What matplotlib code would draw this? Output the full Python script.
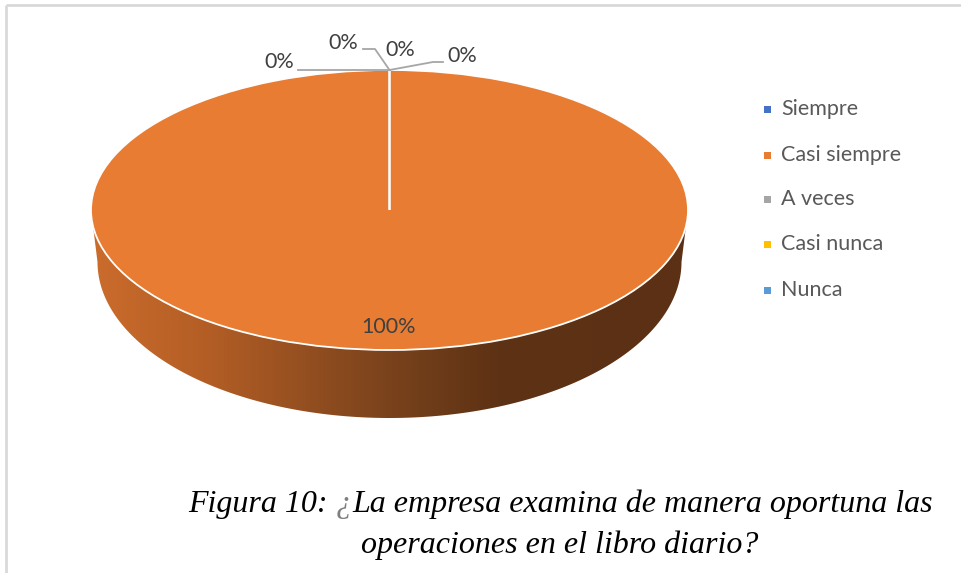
import matplotlib
matplotlib.use("Agg")
import matplotlib.pyplot as plt
import numpy as np
from matplotlib.patches import Polygon, Rectangle
from matplotlib.colors import LinearSegmentedColormap

# ---- data ----
categories = ["Siempre", "Casi siempre", "A veces", "Casi nunca", "Nunca"]
values = [0, 100, 0, 0, 0]
colors = ["#4472C4", "#E87C32", "#A5A5A5", "#FFC000", "#5B9BD5"]
caption_line1 = ["Figura 10: ", "¿", "La empresa examina de manera oportuna las"]
caption_line2 = "operaciones en el libro diario?"

W, H = 961, 573
fig = plt.figure(figsize=(W / 100, H / 100), dpi=100)
fig.patch.set_facecolor("white")

# ---- pie axes (full figure, ellipse via unequal scales) ----
cx, cy, rx, ry = 389.5, 210.0, 298.5, 140.0
ax = fig.add_axes([0, 0, 1, 1])
wedges, _ = ax.pie(values, colors=colors, startangle=90, counterclock=False,
                   radius=1, center=(0, 0),
                   wedgeprops=dict(edgecolor="white", linewidth=1.3))
for w in wedges:
    w.set_zorder(3)

# side of the 3D pie
bcy, ba, bb = -52 / ry, 292 / rx, 156 / ry
t1 = np.linspace(np.pi, 2 * np.pi, 200)
t2 = np.linspace(0, np.pi, 200)
pts = np.vstack([np.c_[ba * np.cos(t1), bcy + bb * np.sin(t1)],
                 np.c_[np.cos(t2), np.sin(t2)]])
side = Polygon(pts, closed=True, facecolor="none", edgecolor="none", zorder=1)
ax.add_patch(side)
cmap = LinearSegmentedColormap.from_list("side", [
    (0.0, "#cb6c2c"), (0.2, "#b25d25"), (0.4, "#8c4b1f"),
    (0.55, "#713e1a"), (0.68, "#5e3214"), (1.0, "#5c3014")])
grad = np.linspace(0, 1, 400).reshape(1, -1)
im = ax.imshow(grad, extent=(-1, 1, bcy - bb - 0.05, 0.2), aspect="auto",
               cmap=cmap, zorder=2, interpolation="bilinear")
im.set_clip_path(side)

ax.set_aspect("auto")
ax.set_xlim(-cx / rx, (W - cx) / rx)
ax.set_ylim(-(H - cy) / ry, cy / ry)
ax.axis("off")

# ---- overlay axes in pixel coordinates ----
ov = fig.add_axes([0, 0, 1, 1], zorder=5)
ov.set_xlim(0, W)
ov.set_ylim(H, 0)
ov.axis("off")
ov.patch.set_alpha(0)

# chart border
ov.plot([6, W], [5, 5], color="#d9d9d9", lw=2, solid_capstyle="butt")
ov.plot([6, 6], [5, H], color="#d9d9d9", lw=2, solid_capstyle="butt")

# data labels
total = sum(values)
label_pos = [(462, 56), (389, 327), (279, 62), (343, 43), (400, 50)]
lab_font = dict(family=["Lato", "DejaVu Sans"], fontsize=15.5, color="#404040")
for v, (lx, ly) in zip(values, label_pos):
    ov.text(lx, ly, f"{v / total * 100:.0f}%", ha="center", va="center", **lab_font)

# leader lines to the top of the pie
ax_x, ax_y = cx, cy - ry
lc = "#a6a6a6"
ov.plot([298, ax_x], [ax_y, ax_y], color=lc, lw=1.3)
ov.plot([363, 375, ax_x], [49, 49, ax_y], color=lc, lw=1.3)
ov.plot([443, 433, ax_x], [62, 62, ax_y], color=lc, lw=1.3)

# legend
leg_y = [109, 155, 199, 244, 290]
for cat, col, y in zip(categories, colors, leg_y):
    ov.add_patch(Rectangle((764, y - 3.5), 7, 7, facecolor=col, edgecolor="none"))
    ov.text(781, y, cat, ha="left", va="center",
            family=["Lato", "DejaVu Sans"], fontsize=15.5, color="#595959")

# caption
cap_font = dict(family="Liberation Serif", style="italic", fontsize=23)
fig.canvas.draw()
r = fig.canvas.get_renderer()
def width(s):
    t = ov.text(0, 0, s, **cap_font)
    w = t.get_window_extent(r).width
    t.remove()
    return w
full = "".join(caption_line1)
wfull = width(full)
x0 = 560.5 - wfull / 2
wpre = width(caption_line1[0] + caption_line1[1])
ov.text(x0, 512, caption_line1[0].rstrip(), ha="left", va="baseline", color="black", **cap_font)
ov.text(x0 + wpre, 512, caption_line1[1], ha="right", va="baseline", color="#7f7f7f", **cap_font)
ov.text(x0 + wpre, 512, caption_line1[2], ha="left", va="baseline", color="black", **cap_font)
ov.text(560, 553, caption_line2, ha="center", va="baseline", color="black", **cap_font)

fig.savefig("out.png", dpi=100, facecolor="white")
